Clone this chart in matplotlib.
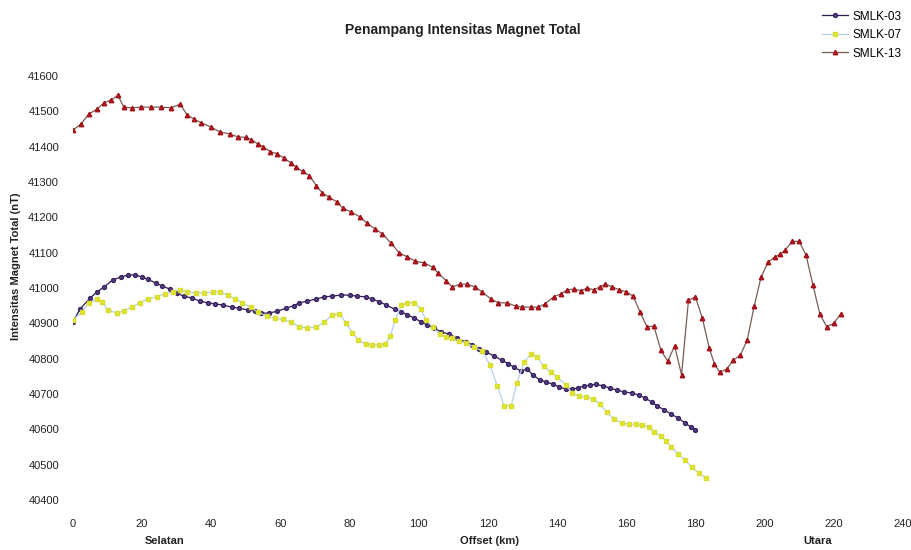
import matplotlib.pyplot as plt

plt.rcParams['font.family'] = ['Liberation Sans', 'DejaVu Sans']

# SMLK-03
x03 = [0, 2, 5, 7, 9, 11.5, 13.9, 16, 18, 20, 21.6, 24, 25.7, 28, 30, 32, 34.3, 36.7, 39, 41,
       43.3, 45.9, 48, 50.5, 52.5, 54.5, 56.6, 59, 61.7, 63.8, 65.5, 67.8, 70.4, 72.7, 75, 77.6,
       80, 82, 84.6, 86.6, 88.6, 90.6, 93, 95, 96.7, 98.7, 100.7, 102.5, 104.5, 106.5, 108.8,
       111, 113.7, 115.4, 117.5, 119.5, 121.8, 124, 125.8, 127.5, 129.6, 131.3, 133, 135, 136.8,
       138.8, 140.5, 142.6, 144.3, 146, 147.8, 149.5, 151.2, 153.2, 155.3, 157.3, 159.3, 161.6,
       163.6, 165.4, 167.4, 169, 171, 173, 175, 177, 178.6, 180]
y03 = [40904, 40940, 40972, 40989, 41003, 41023, 41031, 41037, 41037, 41031, 41025, 41014, 41006,
       40997, 40986, 40977, 40972, 40963, 40958, 40955, 40952, 40946, 40943, 40938, 40935, 40929,
       40929, 40934, 40943, 40950, 40958, 40963, 40969, 40975, 40977, 40980, 40980, 40977, 40975,
       40969, 40961, 40952, 40940, 40932, 40924, 40915, 40904, 40895, 40887, 40875, 40870, 40858,
       40847, 40839, 40827, 40819, 40807, 40796, 40786, 40776, 40765, 40771, 40754, 40740, 40734,
       40728, 40720, 40714, 40714, 40717, 40723, 40725, 40728, 40723, 40717, 40711, 40706, 40703,
       40697, 40689, 40677, 40666, 40655, 40643, 40632, 40618, 40607, 40598]

# SMLK-07
x07 = [0, 2.6, 4.6, 7, 8.4, 10, 12.7, 14.7, 17, 19.3, 21.6, 24.2, 26.5, 28.9, 31, 33, 35.7, 38,
       40.4, 42.4, 44.7, 47, 49, 51.4, 53.4, 56, 58.3, 60.6, 63, 65.5, 67.8, 70.4, 72.7, 75, 77,
       79, 80.8, 82.5, 84.6, 86.6, 88.6, 90.3, 91.8, 93.2, 95, 96.7, 98.7, 100.7, 102, 104, 106,
       108, 109.7, 111.7, 113.7, 116, 118.3, 120.6, 122.7, 124.7, 126.7, 128.4, 130.4, 132.5,
       134.2, 136.2, 138.2, 140, 142.6, 144.3, 146.3, 148.3, 150.4, 152.4, 154.4, 156.4, 158.7,
       160.7, 162.8, 164.5, 166.5, 168, 170, 171.4, 173, 175, 177, 179, 181, 183]
y07 = [40910, 40932, 40958, 40969, 40961, 40938, 40929, 40935, 40946, 40958, 40969, 40975, 40983,
       40989, 40995, 40989, 40986, 40986, 40989, 40989, 40980, 40969, 40958, 40946, 40932, 40921,
       40915, 40911, 40904, 40890, 40887, 40890, 40904, 40924, 40927, 40901, 40873, 40853, 40841,
       40839, 40839, 40841, 40864, 40910, 40952, 40958, 40958, 40940, 40910, 40890, 40870, 40861,
       40858, 40850, 40844, 40833, 40822, 40782, 40723, 40666, 40666, 40731, 40790, 40813, 40805,
       40779, 40762, 40748, 40725, 40703, 40694, 40692, 40686, 40672, 40649, 40629, 40618, 40615,
       40615, 40612, 40607, 40592, 40581, 40567, 40550, 40530, 40513, 40493, 40476, 40462]

# SMLK-13
x13 = [0, 2.3, 4.6, 7, 9, 11, 13, 14.7, 17, 19.6, 22.5, 25.4, 28.3, 31, 33, 35, 37, 40, 42.4,
       45.3, 47.6, 50, 51.6, 53.4, 55, 57, 59, 61, 63, 64.6, 66.4, 68.4, 70.4, 72, 74, 76.5, 78,
       80.5, 83, 85, 87.4, 89.5, 92, 94.4, 96.7, 99, 101.6, 104, 105.6, 108, 109.7, 112, 114,
       116.3, 118.3, 121, 123, 125.5, 128, 130, 132.5, 134.5, 136.5, 139, 141, 143, 145, 147,
       148.6, 150.6, 152.4, 154, 156, 158, 160, 162, 164, 166, 168, 170, 172, 174, 176, 178, 180,
       182, 184, 185.5, 187, 189, 191, 193, 195, 197, 199, 201, 203, 204.6, 206, 208, 210, 212,
       214, 216, 218, 220, 222]
y13 = [41447, 41464, 41492, 41507, 41524, 41532, 41545, 41512, 41510, 41512, 41512, 41512, 41510,
       41520, 41490, 41478, 41468, 41455, 41442, 41436, 41428, 41426, 41420, 41408, 41400, 41386,
       41380, 41368, 41354, 41342, 41330, 41318, 41289, 41270, 41257, 41243, 41226, 41215, 41201,
       41184, 41167, 41153, 41127, 41099, 41088, 41076, 41071, 41059, 41042, 41020, 41003, 41011,
       41011, 41003, 40989, 40968, 40958, 40958, 40949, 40946, 40946, 40946, 40955, 40975, 40983,
       40995, 40997, 40992, 41000, 40995, 41003, 41011, 41003, 40995, 40989, 40977, 40932, 40890,
       40892, 40824, 40793, 40836, 40754, 40966, 40975, 40915, 40830, 40785, 40762, 40770, 40796,
       40810, 40853, 40949, 41031, 41073, 41088, 41096, 41108, 41132, 41132, 41093, 41008, 40926,
       40890, 40900, 40926]

xticks = list(range(0, 241, 20))
yticks = list(range(40400, 41601, 100))

fig = plt.figure(figsize=(9.12, 5.5), dpi=100)
ax = fig.add_axes([0.080, 0.0909, 0.910, 0.7709])

ax.plot(x03, y03, color='#2e1c4e', lw=0.9, marker='o', ms=2.8,
        mfc='#5b3f8c', mec='#3a2460', label='SMLK-03')
ax.plot(x07, y07, color='#b0d2ea', lw=0.9, marker='s', ms=2.8,
        mfc='#e4e62a', mec='#d8dc30', label='SMLK-07')
ax.plot(x13, y13, color='#7a5c55', lw=0.9, marker='^', ms=3.2,
        mfc='#c0161c', mec='#a01018', label='SMLK-13')

ax.set_xlim(0, 240)
ax.set_ylim(40400, 41600)
ax.set_xticks(xticks)
ax.set_yticks(yticks)
for s in ax.spines.values():
    s.set_visible(False)
ax.tick_params(axis='both', length=0, labelsize=8, colors='#222222')
ax.tick_params(axis='x', pad=14)
ax.tick_params(axis='y', pad=10)

fig.text(0.507, 0.945, 'Penampang Intensitas Magnet Total', ha='center', va='center',
         fontsize=10, fontweight='bold', color='#222222')
fig.text(0.017, 0.515, 'Intensitas Magnet Total (nT)', rotation=90, ha='center', va='center',
         fontsize=8, fontweight='bold', color='#222222')
fig.text(0.181, 0.016, 'Selatan', ha='center', va='center', fontsize=8, fontweight='bold', color='#222222')
fig.text(0.537, 0.016, 'Offset (km)', ha='center', va='center', fontsize=8, fontweight='bold', color='#222222')
fig.text(0.897, 0.016, 'Utara', ha='center', va='center', fontsize=8, fontweight='bold', color='#222222')

leg = fig.legend(loc='upper right', bbox_to_anchor=(1.0, 1.0), frameon=False, fontsize=8.5,
                 handlelength=2.2, handletextpad=0.4, labelspacing=0.55)

fig.savefig('out.png', dpi=100)
